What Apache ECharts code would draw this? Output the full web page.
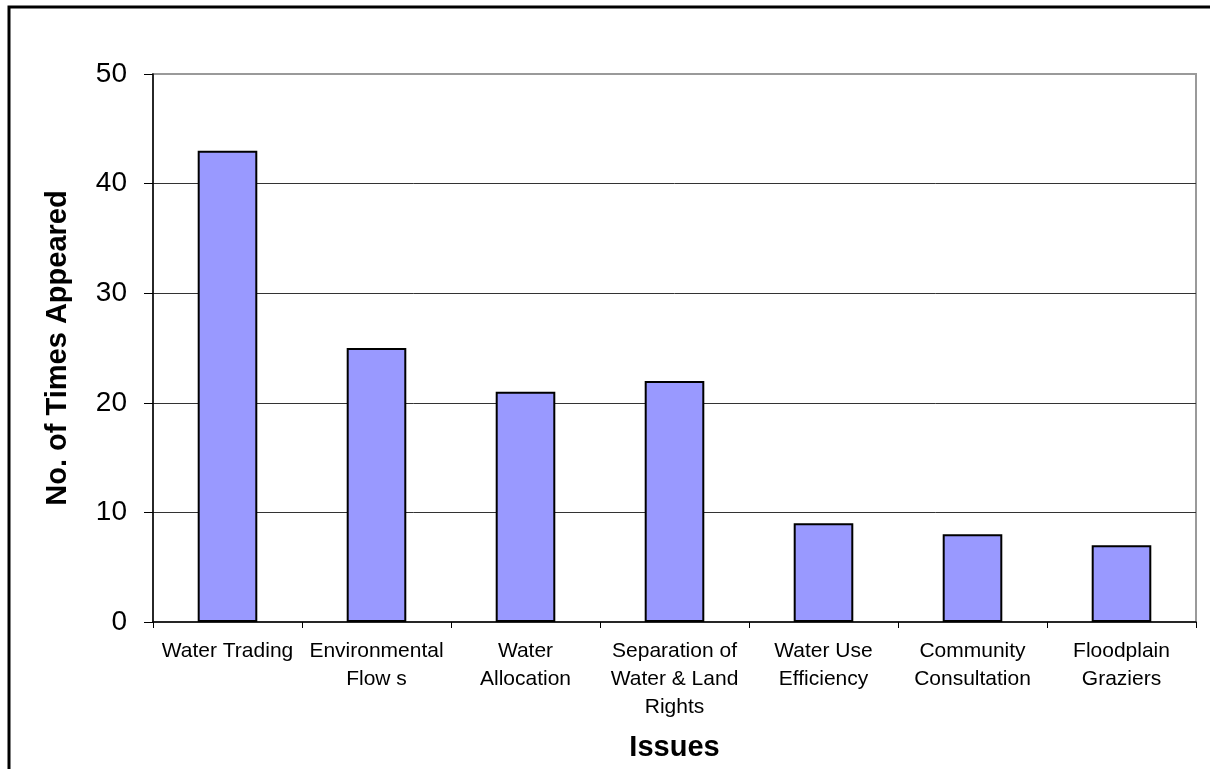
<!DOCTYPE html>
<html>
<head>
<meta charset="utf-8">
<script src="https://cdn.jsdelivr.net/npm/echarts@6/dist/echarts.min.js"></script>
<style>
  html, body { margin: 0; padding: 0; background: #fff; }
  #chart { width: 1210px; height: 769px; }
</style>
</head>
<body>
<div id="chart"></div>
<script>
// Issues raised and how often each appeared
const categories = [
  'Water Trading',
  'Environmental\nFlow s',
  'Water\nAllocation',
  'Separation of\nWater & Land\nRights',
  'Water Use\nEfficiency',
  'Community\nConsultation',
  'Floodplain\nGraziers'
];
const timesAppeared = [43, 25, 21, 22, 9, 8, 7];
const yTicks = { min: 0, max: 50, interval: 10 };

const FONT = '"Liberation Sans", Arial, sans-serif';

const chart = echarts.init(document.getElementById('chart'), null, { renderer: 'canvas' });

chart.setOption({
  animation: false,
  backgroundColor: '#ffffff',
  textStyle: { fontFamily: FONT },
  graphic: [{
    type: 'rect',
    shape: { x: 9, y: 7, width: 1240, height: 820 },
    style: { fill: 'none', stroke: '#000', lineWidth: 3 },
    silent: true
  }],
  grid: {
    left: 153, right: 14, top: 74, bottom: 147,
    show: true,
    borderColor: '#9a9a9a',
    borderWidth: 2,
    backgroundColor: 'transparent'
  },
  xAxis: {
    type: 'category',
    data: categories,
    name: 'Issues',
    nameLocation: 'middle',
    nameGap: 111,
    nameTextStyle: { fontFamily: FONT, fontSize: 29, fontWeight: 'bold', color: '#000' },
    axisLine: { lineStyle: { color: '#000', width: 1.5 } },
    axisTick: { show: true, length: 6, lineStyle: { color: '#000', width: 1 } },
    axisLabel: {
      interval: 0,
      margin: 15,
      fontFamily: FONT,
      fontSize: 21,
      lineHeight: 28,
      color: '#000'
    }
  },
  yAxis: {
    type: 'value',
    min: yTicks.min,
    max: yTicks.max,
    interval: yTicks.interval,
    name: 'No. of Times Appeared',
    nameLocation: 'middle',
    nameGap: 81,
    nameTextStyle: { fontFamily: FONT, fontSize: 29, fontWeight: 'bold', color: '#000' },
    axisLine: { show: true, lineStyle: { color: '#000', width: 1.5 } },
    axisTick: { show: true, length: 9, lineStyle: { color: '#000', width: 1 } },
    axisLabel: {
      margin: 26,
      fontFamily: FONT,
      fontSize: 28,
      color: '#000',
      padding: [5, 0, 0, 0]
    },
    splitLine: {
      show: true,
      showMinLine: false,
      showMaxLine: false,
      lineStyle: { color: '#333', width: 1 }
    }
  },
  series: [{
    type: 'bar',
    data: timesAppeared,
    barWidth: '40%',
    itemStyle: { color: '#9999FF', borderColor: '#000', borderWidth: 2 }
  }]
});
</script>
</body>
</html>
